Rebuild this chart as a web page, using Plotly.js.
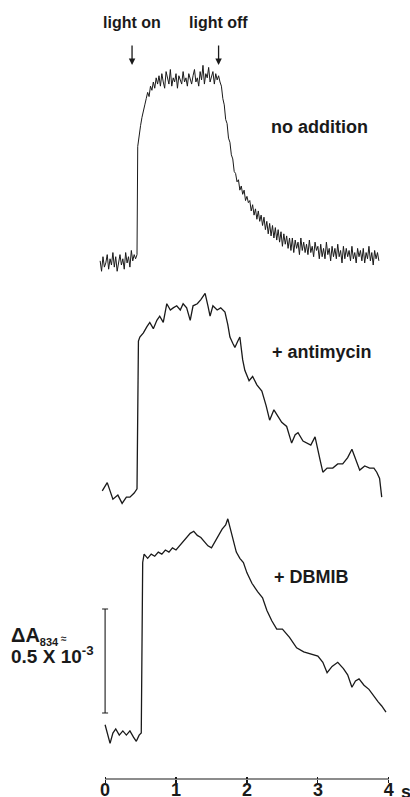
<!DOCTYPE html>
<html>
<head>
<meta charset="utf-8">
<script src="https://cdn.plot.ly/plotly-3.0.1.min.js"></script>
<style>html,body{margin:0;padding:0;background:#fff;}#chart{width:410px;height:797px;}</style>
</head>
<body>
<div id="chart"></div>
<script>
// ---- data: time in s, absorbance change ΔA834 in units of 10^-3 (relative to dark baseline) ----
const tNoAddition = [
  -0.07,-0.05,-0.03,-0.01,0.01,0.03,0.05,0.07,0.09,0.11,0.13,0.15,0.17,0.19,0.21,0.23,0.25,0.27,0.29,0.31,0.33,0.35,0.37,0.39,0.41,0.43,
  0.45,0.46,0.48,0.50,0.52,0.54,0.56,0.58,0.60,0.62,0.64,0.66,0.68,0.70,0.72,0.74,
  0.76,0.78,0.80,0.82,0.84,0.86,0.88,0.90,0.92,0.94,0.96,0.98,1.00,1.02,1.04,1.06,1.08,1.10,1.12,1.14,1.16,1.18,
  1.20,1.22,1.24,1.26,1.28,1.30,1.32,1.34,1.36,1.38,1.40,1.42,1.44,1.46,1.48,1.50,1.52,1.54,1.56,1.58,1.60,1.62,
  1.64,1.66,1.68,1.70,1.72,1.74,1.76,1.78,1.80,1.82,
  1.84,1.86,1.88,1.90,1.92,1.94,1.96,1.98,2.00,2.02,
  2.04,2.06,2.08,2.10,2.12,2.14,2.16,2.18,2.20,2.22,
  2.24,2.26,2.28,2.30,2.32,2.34,2.36,2.38,2.40,2.42,
  2.44,2.46,2.48,2.50,2.52,2.54,2.56,2.58,2.60,2.62,
  2.64,2.66,2.68,2.70,2.72,2.74,2.76,2.78,2.80,2.82,
  2.84,2.86,2.88,2.90,2.92,2.94,2.96,2.98,3.00,3.02,
  3.04,3.06,3.08,3.10,3.12,3.14,3.16,3.18,3.20,3.22,
  3.24,3.26,3.28,3.30,3.32,3.34,3.36,3.38,3.40,3.42,
  3.44,3.46,3.48,3.50,3.52,3.54,3.56,3.58,3.60,3.62,
  3.64,3.66,3.68,3.70,3.72,3.74,3.76,3.78,3.80,3.82,
  3.84,3.86
];
const dANoAddition = [
  0.01,-0.04,0.03,-0.02,0.00,0.04,-0.03,0.02,-0.01,0.05,-0.02,0.03,-0.04,0.01,0.04,-0.01,0.02,-0.03,0.05,0.00,0.03,-0.02,0.06,0.01,0.04,0.02,
  0.04,0.56,0.62,0.66,0.70,0.74,0.76,0.79,0.82,0.80,0.85,0.83,0.87,0.84,0.89,0.86,
  0.90,0.85,0.91,0.87,0.84,0.92,0.88,0.86,0.93,0.85,0.89,0.87,0.91,0.84,0.90,0.88,0.86,0.92,0.87,0.89,0.85,0.91,
  0.88,0.86,0.90,0.93,0.87,0.89,0.85,0.92,0.88,0.95,0.86,0.91,0.89,0.94,0.87,0.90,0.92,0.86,0.91,0.88,0.90,0.87,
  0.85,0.79,0.76,0.69,0.67,0.60,0.58,0.52,0.50,0.44,
  0.43,0.39,0.40,0.35,0.37,0.33,0.35,0.30,0.32,0.29,
  0.30,0.25,0.28,0.23,0.26,0.21,0.25,0.20,0.23,0.18,
  0.22,0.16,0.20,0.14,0.19,0.13,0.18,0.12,0.17,0.11,
  0.16,0.10,0.15,0.08,0.14,0.09,0.13,0.07,0.12,0.06,
  0.12,0.05,0.11,0.07,0.10,0.04,0.12,0.06,0.10,0.05,
  0.09,0.04,0.11,0.05,0.08,0.03,0.10,0.06,0.08,0.02,
  0.09,0.03,0.07,0.02,0.10,0.04,0.07,0.01,0.08,0.03,
  0.07,0.02,0.09,0.03,0.06,0.00,0.08,0.02,0.07,0.03,
  0.06,0.01,0.08,0.02,0.05,0.00,0.07,0.03,0.06,0.01,
  0.07,0.00,0.05,0.02,0.08,0.01,0.05,-0.01,0.06,0.02,
  0.05,0.01
];
const tAntimycin = [
  -0.04,0.03,0.11,0.18,0.24,0.30,0.35,0.41,0.45,
  0.47,0.49,0.54,0.59,0.63,0.68,0.73,0.77,0.82,0.87,0.92,0.96,1.01,1.06,1.10,1.15,1.20,1.24,1.30,1.35,1.41,1.45,1.48,1.52,1.58,1.63,1.69,
  1.73,1.76,1.80,1.83,1.87,1.90,1.94,1.97,2.03,2.08,2.14,2.21,2.27,2.32,2.38,2.42,2.49,2.56,2.63,2.68,2.72,2.79,2.85,2.90,2.96,
  3.00,3.03,3.07,3.13,3.21,3.28,3.35,3.42,3.48,3.54,3.59,3.66,3.73,3.79,3.83,3.87,3.90
];
const dAAntimycin = [
  0.02,0.06,-0.02,0.00,-0.04,-0.01,-0.01,0.01,0.03,
  0.74,0.76,0.78,0.81,0.83,0.80,0.84,0.86,0.83,0.92,0.89,0.90,0.91,0.89,0.92,0.90,0.84,0.91,0.92,0.94,0.97,0.91,0.86,0.91,0.89,0.90,0.88,
  0.82,0.76,0.73,0.71,0.74,0.76,0.65,0.60,0.55,0.57,0.53,0.50,0.43,0.36,0.41,0.39,0.35,0.33,0.25,0.29,0.30,0.26,0.25,0.24,0.28,
  0.21,0.17,0.11,0.13,0.13,0.15,0.15,0.18,0.22,0.16,0.12,0.14,0.13,0.13,0.11,0.08,-0.01
];
const tDBMIB = [
  0.00,0.04,0.07,0.11,0.15,0.20,0.25,0.30,0.35,0.40,0.44,0.48,0.51,
  0.53,0.55,0.60,0.65,0.70,0.75,0.80,0.85,0.90,0.95,1.00,1.05,1.10,1.15,1.20,1.25,1.30,1.35,1.40,1.45,1.50,1.55,1.60,1.65,1.70,1.73,
  1.76,1.80,1.85,1.90,1.95,2.00,2.07,2.15,2.22,2.28,2.35,2.42,2.50,2.60,2.70,2.80,2.90,3.00,
  3.07,3.13,3.20,3.28,3.36,3.42,3.48,3.53,3.58,3.65,3.72,3.78,3.85,3.90,3.96
];
const dADBMIB = [
  0.04,-0.02,-0.05,0.00,0.02,-0.01,0.01,-0.01,0.01,-0.02,-0.04,-0.01,0.00,
  0.82,0.86,0.84,0.86,0.85,0.87,0.86,0.88,0.87,0.89,0.88,0.90,0.92,0.94,0.96,0.97,0.95,0.94,0.92,0.90,0.89,0.92,0.95,0.98,1.00,1.03,
  0.99,0.93,0.87,0.84,0.82,0.77,0.72,0.68,0.65,0.59,0.54,0.50,0.50,0.46,0.41,0.39,0.38,0.37,
  0.34,0.29,0.32,0.34,0.31,0.28,0.22,0.25,0.26,0.23,0.21,0.18,0.15,0.13,0.10
];
const traceLabels = ["no addition", "+ antimycin", "+ DBMIB"];
const xTickVals = [0, 1, 2, 3, 4];
const xTickText = ["0", "1", "2", "3", "4"];
const xUnit = "s";
const lightOnTime = 0.38;
const lightOffTime = 1.60;
const scaleBarValue = 0.5; // ×10^-3

// ---- layout constants (positions, not data) ----
const PX_PER_UNIT = 208;           // vertical pixels per 1×10^-3
const PLOT_H = 779;
const PLOT_L = 98, PLOT_W = 305;
const offsets = [2.481, 1.365, 0.221];  // vertical stacking of the three records
const scaleBarCenter = 0.567;
const FONT = "Liberation Sans, Arial, Helvetica, sans-serif";
const INK = "#1a1a1a";

function shift(arr, off) { return arr.map(v => v + off); }

const traces = [
  {x: tNoAddition, y: shift(dANoAddition, offsets[0]), mode: "lines", line: {color: INK, width: 1}, name: traceLabels[0]},
  {x: tAntimycin, y: shift(dAAntimycin, offsets[1]), mode: "lines", line: {color: INK, width: 1.3}, name: traceLabels[1]},
  {x: tDBMIB, y: shift(dADBMIB, offsets[2]), mode: "lines", line: {color: INK, width: 1.3}, name: traceLabels[2]},
  {x: [0], y: [scaleBarCenter], mode: "markers", marker: {size: 1, color: "rgba(0,0,0,0)"},
   error_y: {type: "constant", value: scaleBarValue / 2, width: 3, thickness: 1.1, color: INK}},
  {x: [0, 4], y: [0, 0], xaxis: "x2", mode: "markers", marker: {size: 1, color: "rgba(0,0,0,0)"}}
];

const paperX = px => (px - PLOT_L) / PLOT_W;
const paperY = py => (PLOT_H - py) / PLOT_H;

const annFont = (s) => ({family: FONT, size: s, color: INK, weight: 700});
const txt = (text, px, py, size, xanchor) => ({
  text: text, x: paperX(px), xref: "paper", y: paperY(py), yref: "paper",
  xanchor: xanchor || "center", yanchor: "middle", showarrow: false, font: annFont(size)
});

const annotations = [
  {text: "light on", x: lightOnTime, xref: "x", y: paperY(22), yref: "paper", xanchor: "center", yanchor: "middle",
   showarrow: false, font: annFont(16)},
  {text: "light off", x: lightOffTime, xref: "x", y: paperY(22), yref: "paper", xanchor: "center", yanchor: "middle",
   showarrow: false, font: annFont(16)},
  {text: "", x: lightOnTime, xref: "x", y: paperY(65), yref: "paper", showarrow: true, ax: 0, ay: -21,
   arrowhead: 2, arrowsize: 1, arrowwidth: 1.3, arrowcolor: INK, standoff: 0},
  {text: "", x: lightOffTime, xref: "x", y: paperY(65), yref: "paper", showarrow: true, ax: 0, ay: -21,
   arrowhead: 2, arrowsize: 1, arrowwidth: 1.3, arrowcolor: INK, standoff: 0},
  txt(traceLabels[0], 319, 127, 18),
  txt(traceLabels[1], 322, 352, 18),
  txt(traceLabels[2], 311, 577, 18),
  txt("ΔA<sub><span style=\"font-size:11px\">834</span></sub><span style=\"font-size:10px\"> ≈</span>", 9, 636, 20, "left"),
  txt("0.5 X 10<sup>-3</sup>", 9, 655, 19, "left"),
  {text: xUnit, x: 4, xref: "x", xanchor: "left", xshift: 10, y: 0, yref: "paper", yanchor: "top", yshift: -1,
   showarrow: false, font: annFont(18)}
];

const layout = {
  width: 410, height: 797,
  margin: {l: PLOT_L, r: 410 - PLOT_L - PLOT_W, t: 0, b: 797 - PLOT_H, pad: 0},
  paper_bgcolor: "#fff", plot_bgcolor: "#fff",
  showlegend: false,
  xaxis: {range: [-0.1, 4.2], showgrid: false, zeroline: false, showline: false,
          tickmode: "array", tickvals: xTickVals, ticktext: xTickText,
          ticks: "outside", ticklen: 3, tickwidth: 1.1, tickcolor: INK, ticklabelstandoff: -9,
          tickfont: {family: FONT, size: 18, color: INK, weight: 700}},
  xaxis2: {range: [-0.1, 4.2], overlaying: "x", anchor: "y", showgrid: false, zeroline: false, showline: false,
           tickmode: "array", tickvals: xTickVals, ticks: "inside", ticklen: 2, tickwidth: 1.1, tickcolor: INK,
           showticklabels: false},
  yaxis: {range: [0, PLOT_H / PX_PER_UNIT], visible: false, fixedrange: true},
  shapes: [
    {type: "line", xref: "x", yref: "paper", x0: 0, x1: 4, y0: 0, y1: 0, line: {color: INK, width: 1.2}}
  ],
  annotations: annotations
};

Plotly.newPlot("chart", traces, layout, {staticPlot: true, displayModeBar: false});
</script>
</body>
</html>
